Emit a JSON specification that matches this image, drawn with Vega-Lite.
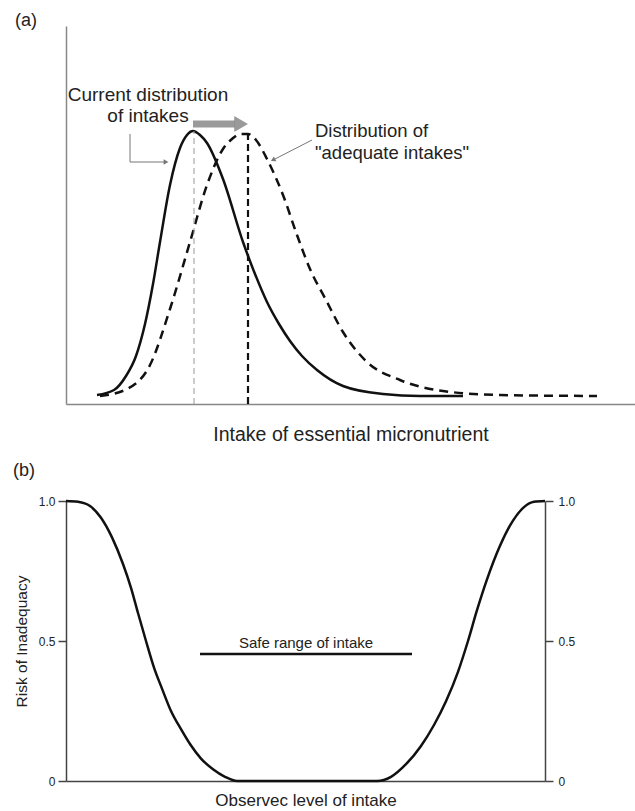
{
  "$schema": "https://vega.github.io/schema/vega-lite/v6.json",
  "padding": {"left": 13, "top": 12, "right": 0, "bottom": 0},
  "background": "white",
  "spacing": 18,
  "config": {
    "font": "Liberation Sans",
    "view": {"stroke": null},
    "axis": {"grid": false},
    "title": {"font": "Liberation Sans", "fontWeight": "normal", "color": "#222", "anchor": "start", "frame": "group"}
  },
  "vconcat": [
    {
      "title": {"text": "(a)", "fontSize": 18, "dx": -51, "offset": 0, "dy": 4},
      "width": 569,
      "height": 378,
      "layer": [
        {
          "data": {"values": [
            {"x": 33, "y": 9}, {"x": 50, "y": 14}, {"x": 62, "y": 28}, {"x": 72, "y": 48}, {"x": 81, "y": 80},
            {"x": 89, "y": 120}, {"x": 96, "y": 162}, {"x": 106, "y": 219}, {"x": 116, "y": 256}, {"x": 123, "y": 269},
            {"x": 129, "y": 273}, {"x": 136, "y": 269}, {"x": 143, "y": 261}, {"x": 159, "y": 225}, {"x": 179, "y": 162},
            {"x": 191, "y": 130}, {"x": 203, "y": 102}, {"x": 215, "y": 80}, {"x": 226, "y": 63}, {"x": 238, "y": 48},
            {"x": 253, "y": 34}, {"x": 279, "y": 18}, {"x": 319, "y": 10}, {"x": 356, "y": 8}, {"x": 399, "y": 8}
          ]},
          "mark": {"type": "line", "interpolate": "monotone", "color": "#111", "strokeWidth": 2.5},
          "encoding": {
            "x": {"field": "x", "type": "quantitative", "scale": {"domain": [2, 571], "nice": false, "zero": false},
                  "axis": {"title": "Intake of essential micronutrient", "ticks": false, "labels": false, "domainColor": "#888", "domainWidth": 1.5, "titleFontSize": 19.5, "titleFontWeight": "normal", "titleColor": "#222", "titlePadding": 21}},
            "y": {"field": "y", "type": "quantitative", "scale": {"domain": [0, 378], "nice": false},
                  "axis": {"title": null, "ticks": false, "labels": false, "domainColor": "#888", "domainWidth": 1.5}}
          }
        },
        {
          "data": {"values": [
            {"x": 36, "y": 8}, {"x": 63, "y": 15}, {"x": 86, "y": 39}, {"x": 106, "y": 95}, {"x": 126, "y": 162},
            {"x": 143, "y": 219}, {"x": 159, "y": 255}, {"x": 168, "y": 265}, {"x": 176, "y": 270}, {"x": 184, "y": 270},
            {"x": 192, "y": 264}, {"x": 203, "y": 245}, {"x": 219, "y": 209}, {"x": 233, "y": 169}, {"x": 246, "y": 135},
            {"x": 262, "y": 104}, {"x": 279, "y": 72}, {"x": 303, "y": 42}, {"x": 336, "y": 24}, {"x": 379, "y": 13},
            {"x": 436, "y": 9}, {"x": 533, "y": 8}
          ]},
          "mark": {"type": "line", "interpolate": "monotone", "color": "#111", "strokeWidth": 2.5, "strokeDash": [9, 6]},
          "encoding": {
            "x": {"field": "x", "type": "quantitative"},
            "y": {"field": "y", "type": "quantitative"}
          }
        },
        {
          "data": {"values": [{"x": 130, "y": 0, "y2": 273}]},
          "mark": {"type": "rule", "color": "#999", "strokeWidth": 1, "strokeDash": [6, 4]},
          "encoding": {
            "x": {"field": "x", "type": "quantitative"},
            "y": {"field": "y", "type": "quantitative"},
            "y2": {"field": "y2"}
          }
        },
        {
          "data": {"values": [{"x": 184, "y": 0, "y2": 270}]},
          "mark": {"type": "rule", "color": "#111", "strokeWidth": 2.2, "strokeDash": [7, 4]},
          "encoding": {
            "x": {"field": "x", "type": "quantitative"},
            "y": {"field": "y", "type": "quantitative"},
            "y2": {"field": "y2"}
          }
        },
        {
          "data": {"values": [{"x": 129, "x2": 171, "y": 280}]},
          "mark": {"type": "rule", "color": "#9a9a9a", "strokeWidth": 7},
          "encoding": {
            "x": {"field": "x", "type": "quantitative"},
            "x2": {"field": "x2"},
            "y": {"field": "y", "type": "quantitative"}
          }
        },
        {
          "data": {"values": [{"x": 177, "y": 280}]},
          "mark": {"type": "point", "shape": "triangle-right", "filled": true, "color": "#9a9a9a", "size": 220, "opacity": 1, "stroke": "#888", "strokeWidth": 0.5},
          "encoding": {
            "x": {"field": "x", "type": "quantitative"},
            "y": {"field": "y", "type": "quantitative"}
          }
        },
        {
          "data": {"values": [{"x": 66, "y": 270, "o": 1}, {"x": 66, "y": 242, "o": 2}, {"x": 100, "y": 242, "o": 3}]},
          "mark": {"type": "line", "color": "#777", "strokeWidth": 1},
          "encoding": {
            "x": {"field": "x", "type": "quantitative"},
            "y": {"field": "y", "type": "quantitative"},
            "order": {"field": "o", "type": "quantitative"}
          }
        },
        {
          "data": {"values": [{"x": 248, "y": 264, "o": 1}, {"x": 211, "y": 245, "o": 2}]},
          "mark": {"type": "line", "color": "#777", "strokeWidth": 1},
          "encoding": {
            "x": {"field": "x", "type": "quantitative"},
            "y": {"field": "y", "type": "quantitative"},
            "order": {"field": "o", "type": "quantitative"}
          }
        },
        {
          "data": {"values": [{"x": 102, "y": 242}]},
          "mark": {"type": "point", "shape": "triangle-right", "filled": true, "color": "#777", "size": 30, "opacity": 1},
          "encoding": {
            "x": {"field": "x", "type": "quantitative"},
            "y": {"field": "y", "type": "quantitative"}
          }
        },
        {
          "data": {"values": [{"x": 209, "y": 244}]},
          "mark": {"type": "point", "shape": "triangle-up", "angle": 243, "filled": true, "color": "#777", "size": 30, "opacity": 1},
          "encoding": {
            "x": {"field": "x", "type": "quantitative"},
            "y": {"field": "y", "type": "quantitative"}
          }
        },
        {
          "data": {"values": [{"x": 84, "y": 309, "label": "Current distribution"}, {"x": 84, "y": 288, "label": "of intakes"}]},
          "mark": {"type": "text", "align": "center", "baseline": "middle", "fontSize": 19, "color": "#222"},
          "encoding": {
            "x": {"field": "x", "type": "quantitative"},
            "y": {"field": "y", "type": "quantitative"},
            "text": {"field": "label"}
          }
        },
        {
          "data": {"values": [{"x": 251, "y": 273, "label": "Distribution of"}, {"x": 251, "y": 251, "label": "\"adequate intakes\""}]},
          "mark": {"type": "text", "align": "left", "baseline": "middle", "fontSize": 18.5, "color": "#222"},
          "encoding": {
            "x": {"field": "x", "type": "quantitative"},
            "y": {"field": "y", "type": "quantitative"},
            "text": {"field": "label"}
          }
        }
      ]
    },
    {
      "title": {"text": "(b)", "fontSize": 18, "dx": -53, "offset": 15},
      "width": 479,
      "height": 280,
      "resolve": {"axis": {"y": "independent"}},
      "layer": [
        {
          "data": {"values": [
            {"x": 0, "y": 1.0}, {"x": 12, "y": 0.997}, {"x": 24, "y": 0.982}, {"x": 35, "y": 0.94}, {"x": 46, "y": 0.87},
            {"x": 57, "y": 0.775}, {"x": 65, "y": 0.69}, {"x": 72, "y": 0.6}, {"x": 80, "y": 0.5}, {"x": 88, "y": 0.405},
            {"x": 96, "y": 0.33}, {"x": 105, "y": 0.25}, {"x": 115, "y": 0.185}, {"x": 124, "y": 0.132}, {"x": 135, "y": 0.08},
            {"x": 147, "y": 0.042}, {"x": 159, "y": 0.015}, {"x": 171, "y": 0.0}, {"x": 245, "y": 0.0}, {"x": 311, "y": 0.0},
            {"x": 325, "y": 0.015}, {"x": 340, "y": 0.06}, {"x": 355, "y": 0.125}, {"x": 368, "y": 0.2}, {"x": 380, "y": 0.285},
            {"x": 392, "y": 0.39}, {"x": 402, "y": 0.5}, {"x": 411, "y": 0.61}, {"x": 421, "y": 0.72}, {"x": 434, "y": 0.84},
            {"x": 447, "y": 0.93}, {"x": 458, "y": 0.978}, {"x": 468, "y": 0.997}, {"x": 479, "y": 1.0}
          ]},
          "mark": {"type": "line", "interpolate": "monotone", "color": "#111", "strokeWidth": 2.5},
          "encoding": {
            "x": {"field": "x", "type": "quantitative", "scale": {"domain": [0, 479], "nice": false},
                  "axis": {"title": "Observec level of intake", "ticks": false, "labels": false, "domainColor": "#444", "domainWidth": 1.5, "titleFontSize": 17, "titleFontWeight": "normal", "titleColor": "#222", "titlePadding": 11}},
            "y": {"field": "y", "type": "quantitative", "scale": {"domain": [0, 1], "nice": false},
                  "axis": {"title": "Risk of Inadequacy", "values": [0, 0.5, 1], "labelExpr": "datum.value == 0 ? '0' : format(datum.value, '.1f')",
                           "tickSize": 8, "tickColor": "#444", "tickWidth": 1.5, "domainColor": "#444", "domainWidth": 1.5,
                           "labelFontSize": 12, "labelColor": "#222", "labelPadding": 3,
                           "titleFontSize": 15.5, "titleFontWeight": "normal", "titleColor": "#222", "titlePadding": 9}}
          }
        },
        {
          "data": {"values": [{"x": 134, "x2": 346, "y": 0.454}]},
          "mark": {"type": "rule", "color": "#111", "strokeWidth": 2.5},
          "encoding": {
            "x": {"field": "x", "type": "quantitative"},
            "x2": {"field": "x2"},
            "y": {"field": "y", "type": "quantitative",
                  "axis": {"orient": "right", "title": null, "values": [0, 0.5, 1], "labelExpr": "datum.value == 0 ? '0' : format(datum.value, '.1f')",
                           "tickSize": 8, "tickColor": "#444", "tickWidth": 1.5, "domainColor": "#444", "domainWidth": 1.5,
                           "labelFontSize": 12, "labelColor": "#222", "labelPadding": 5}}
          }
        },
        {
          "data": {"values": [{"x": 240, "y": 0.493, "label": "Safe range of intake"}]},
          "mark": {"type": "text", "align": "center", "baseline": "middle", "fontSize": 15, "color": "#222"},
          "encoding": {
            "x": {"field": "x", "type": "quantitative"},
            "y": {"field": "y", "type": "quantitative", "axis": null},
            "text": {"field": "label"}
          }
        }
      ]
    }
  ]
}
